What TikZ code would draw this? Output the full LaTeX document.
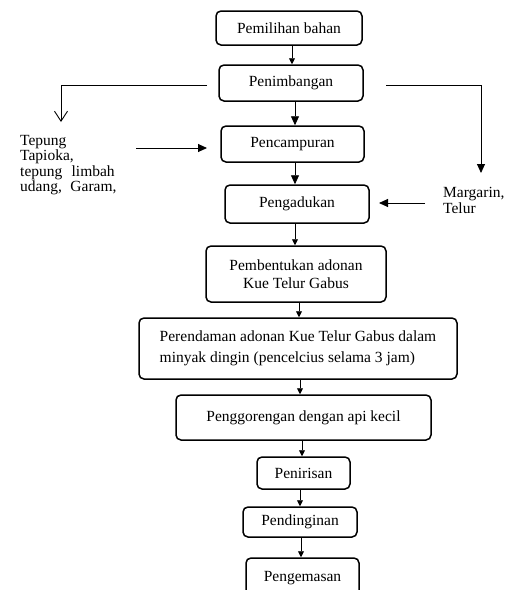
\documentclass[tikz,border=0pt]{standalone}
\usepackage{fontspec}
\setmainfont{Liberation Serif}
\usetikzlibrary{arrows.meta}
\begin{document}
\begin{tikzpicture}[x=1pt,y=-1pt,
  box/.style={draw, line width=1.5pt, rounded corners=5pt, inner sep=0pt, align=center, font=\fontsize{15.5}{18}\selectfont},
  arr/.style={line width=0.9pt, -{Triangle[length=6pt,width=6pt]}},
  arrbig/.style={line width=0.9pt, -{Triangle[length=9pt,width=8pt]}},
  lbl/.style={inner sep=0pt, anchor=north west, align=left, font=\fontsize{15.5}{15.4}\selectfont}]
\useasboundingbox (0,0) rectangle (508,590);

\node[box, minimum width=146pt, minimum height=34pt] (n1) at (289,28) {Pemilihan bahan};
\node[box, minimum width=144pt, minimum height=36pt] (n2) at (291,83) {Penimbangan};
\node[box, minimum width=143pt, minimum height=36pt] (n3) at (292.5,144) {Pencampuran};
\node[box, minimum width=144pt, minimum height=38pt] (n4) at (297,204) {Pengadukan};
\node[box, minimum width=180pt, minimum height=56pt] (n5) at (296,274) {Pembentukan adonan\\Kue Telur Gabus};
\node[box, minimum width=318pt, minimum height=61pt, align=left, font=\fontsize{15.5}{21}\selectfont] (n6) at (298,348.5) {Perendaman adonan Kue Telur Gabus dalam\\minyak dingin (pencelcius selama 3 jam)};
\node[box, minimum width=255pt, minimum height=45pt] (n7) at (303.5,417.5) {Penggorengan dengan api kecil};
\node[box, minimum width=93pt, minimum height=32pt] (n8) at (303.5,473) {Penirisan};
\node[box, minimum width=114pt, minimum height=30pt] (n9) at (300,522) {Pendinginan};
\node[box, minimum width=113pt, minimum height=40pt, text depth=0pt] (n10) at (302.5,578) {\raisebox{4pt}{Pengemasan}};

\draw[arr] ([xshift=3pt]n1.south) -- ([xshift=3pt]n1.south |- n2.north);
\draw[arrbig] ([xshift=4pt]n2.south) -- ([xshift=4pt]n2.south |- n3.north);
\draw[arrbig] ([xshift=2.5pt]n3.south) -- ([xshift=2.5pt]n3.south |- n4.north);
\draw[arr] ([xshift=-2pt]n4.south) -- ([xshift=-2pt]n4.south |- n5.north);
\draw[arr] ([xshift=3pt]n5.south) -- ([xshift=3pt]n5.south |- n6.north);
\draw[arr] ([xshift=2pt]n6.south) -- ([xshift=2pt]n6.south |- n7.north);
\draw[arr] ([xshift=-1.5pt]n7.south) -- ([xshift=-1.5pt]n7.south |- n8.north);
\draw[arr] ([xshift=-3.5pt]n8.south) -- ([xshift=-3.5pt]n8.south |- n9.north);
\draw[arr] ([xshift=1pt]n9.south) -- ([xshift=1pt]n9.south |- n10.north);

\node[lbl] (tep) at (20,135) {Tepung\\Tapioka,\\tepung\hspace{0.6em}limbah\\udang,\hspace{0.55em}Garam,};
\node[lbl, font=\fontsize{15.5}{16.5}\selectfont] (mar) at (443,187) {Margarin,\\Telur};

\coordinate (lstart) at (207,85);
\coordinate (lend) at (61,122);
\draw[line width=0.9pt, -{Straight Barb[length=10pt,width=13pt,line width=0.9pt]}] (lstart) -| (lend);
\coordinate (rstart) at (386,85);
\coordinate (rend) at (481,173);
\draw[arrbig] (rstart) -| (rend);

\coordinate (tarr) at (136,148);
\coordinate (tend) at (207,148);
\draw[arrbig] (tarr) -- (tend);
\coordinate (marr) at (425,203);
\coordinate (mend) at (379,203);
\draw[arrbig] (marr) -- (mend);
\end{tikzpicture}
\end{document}
